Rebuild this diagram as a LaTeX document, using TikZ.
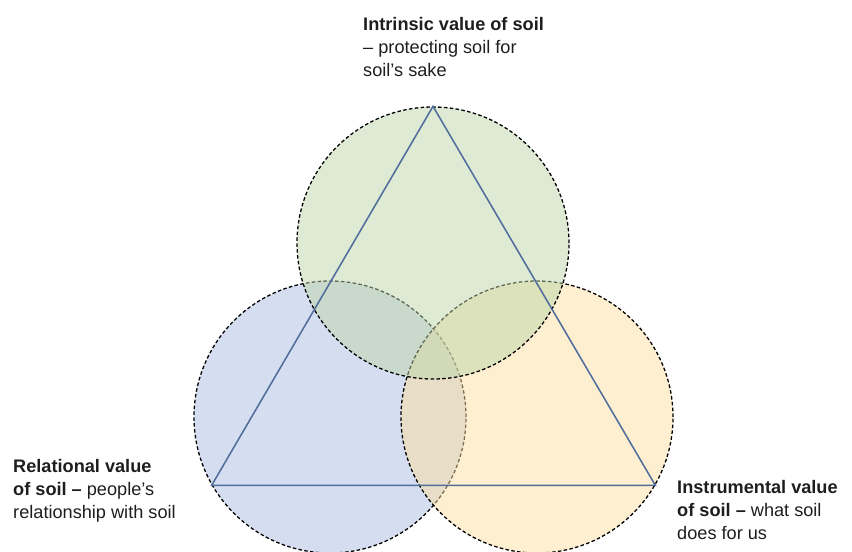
\documentclass[tikz,border=0pt]{standalone}
\usepackage{fontspec}
\setmainfont{Liberation Sans}
\usepackage{tikz}

\definecolor{intrinsicfill}{RGB}{189,213,169}
\definecolor{relationalfill}{RGB}{171,189,225}
\definecolor{instrumentalfill}{RGB}{251,223,161}
\definecolor{triline}{RGB}{79,108,155}
\definecolor{labeltext}{RGB}{30,30,30}

\tikzset{
	valuecircle/.style={circle,draw=black,densely dashed,line width=1.1pt,fill opacity=0.5,minimum size=8.16cm,inner sep=0pt},
	valuelabel/.style={anchor=north west,inner sep=0pt,align=left,text=labeltext,font=\fontsize{15.5}{19.8}\selectfont}
}

\begin{document}
\begin{tikzpicture}[x=0.03cm,y=-0.03cm]
	\useasboundingbox (0,0) rectangle (852,551);
	\node[valuecircle,fill=relationalfill] (relational) at (330,417) {};
	\node[valuecircle,fill=instrumentalfill] (instrumental) at (537,417) {};
	\node[valuecircle,fill=intrinsicfill] (intrinsic) at (433,243) {};
	\coordinate (top) at (intrinsic.north);
	\coordinate (left) at (relational.210);
	\coordinate (right) at (instrumental.-30);
	\draw[triline,line width=1.3pt,line join=miter] (top) -- (right) -- (left) -- cycle;
	\node[valuelabel] (intrinsiclabel) at (363,17) {\textbf{Intrinsic value of soil}\\-- protecting soil for\\soil's sake};
	\node[valuelabel] (relationallabel) at (13,459) {\textbf{Relational value}\\\textbf{of soil --} people's\\relationship with soil};
	\node[valuelabel] (instrumentallabel) at (677,480) {\textbf{Instrumental value}\\\textbf{of soil --} what soil\\does for us};
\end{tikzpicture}
\end{document}
